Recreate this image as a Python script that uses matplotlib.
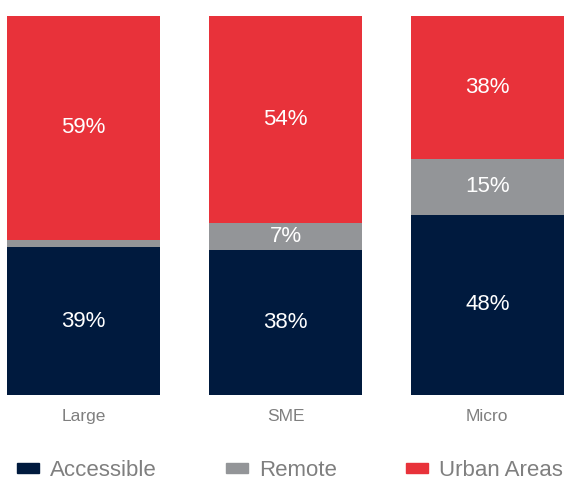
import matplotlib.pyplot as plt
import numpy as np
from matplotlib.patches import Patch

categorias = ['Large', 'SME', 'Micro']
accessible = [39, 38, 48]
remote = [2, 7, 15]
urban = [59, 54, 38]
series_nomes = ['Accessible', 'Remote', 'Urban Areas']
cores = ['#001a3e', '#939598', '#e8323a']

plt.rcParams['font.family'] = ['Liberation Sans', 'DejaVu Sans']

fig = plt.figure(figsize=(5.66, 4.80), dpi=100)
ax = fig.add_axes([7 / 566, 85 / 480, 557 / 566, 379 / 480])

x = np.arange(len(categorias))
dados = np.array([accessible, remote, urban], dtype=float)
totais = dados.sum(axis=0)
alturas = dados / totais * 100

base = np.zeros(len(categorias))
for i, nome in enumerate(series_nomes):
    ax.bar(x, alturas[i], bottom=base, width=0.76, color=cores[i], label=nome)
    for j in range(len(categorias)):
        if dados[i, j] >= 5:
            ax.text(x[j], base[j] + alturas[i, j] / 2, f'{int(dados[i, j])}%',
                    ha='center', va='center', color='white', fontsize=16)
    base += alturas[i]

ax.set_xlim(-0.38, 2.38)
ax.set_ylim(0, 100)
ax.set_xticks(x)
ax.set_xticklabels(categorias, fontsize=12.5, color='#7f7f7f')
ax.tick_params(axis='x', length=0, pad=10)
ax.set_yticks([])
for s in ax.spines.values():
    s.set_visible(False)

handles = [Patch(color=c, label=n) for c, n in zip(cores, series_nomes)]
fig.legend(handles=handles, loc='center', bbox_to_anchor=(0.512, 0.02), ncol=3,
           frameon=False, fontsize=16, labelcolor='#7f7f7f', borderpad=0.2,
           handlelength=1.0, handleheight=0.3, handletextpad=0.5, columnspacing=3.1)

fig.savefig('out.png', dpi=100)
